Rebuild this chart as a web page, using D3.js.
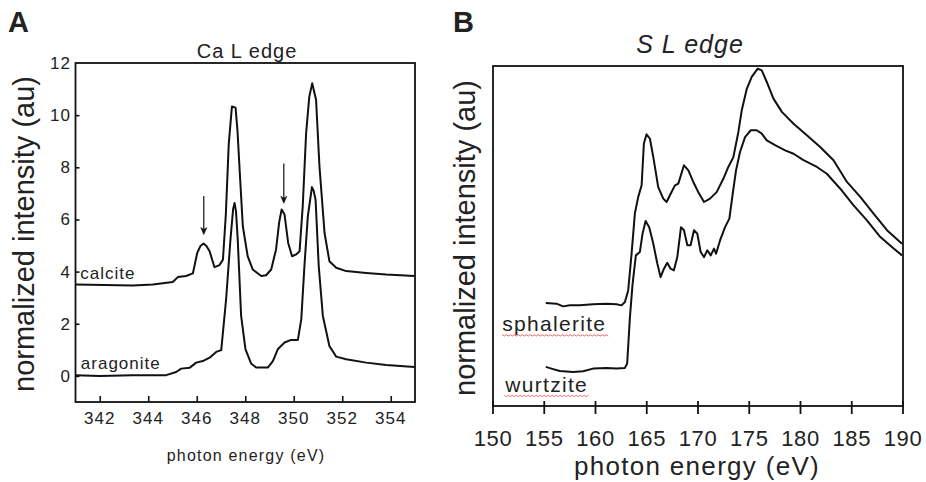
<!DOCTYPE html>
<html>
<head>
<meta charset="utf-8">
<script src="https://cdn.jsdelivr.net/npm/d3@7/dist/d3.min.js"></script>
<style>
  html, body { margin: 0; padding: 0; background: #fff; }
  svg { display: block; font-family: "Liberation Sans", Arial, Helvetica, sans-serif; }
</style>
</head>
<body>
<svg id="chart" width="926" height="482"></svg>
<script>
// ---------- Panel A data: Ca L edge ----------
const caTicksX = [342, 344, 346, 348, 350, 352, 354];
const caTicksY = [0, 2, 4, 6, 8, 10, 12];
const calciteE = [341, 343.36, 344.19, 345.01, 345.22, 345.56, 345.84, 346.02, 346.15, 346.28, 346.4, 346.53, 346.73, 346.94, 347.08, 347.2, 347.32, 347.45, 347.6, 347.68, 347.76, 347.9, 348.1, 348.31, 348.66, 348.86, 349.07, 349.27, 349.4, 349.5, 349.62, 349.77, 349.93, 350.1, 350.24, 350.37, 350.51, 350.64, 350.76, 350.92, 351.06, 351.27, 351.47, 351.75, 352.16, 352.99, 353.81, 354.98];
const calciteI = [3.51, 3.47, 3.51, 3.60, 3.79, 3.83, 3.93, 4.72, 4.98, 5.08, 4.98, 4.78, 4.17, 4.25, 4.46, 6.2, 8.9, 10.33, 10.29, 9.4, 8.04, 5.74, 4.59, 4.08, 3.83, 3.86, 4.08, 4.85, 5.9, 6.38, 6.19, 5.10, 4.59, 4.66, 4.78, 6.5, 9.31, 10.7, 11.22, 10.59, 8.04, 5.48, 4.40, 4.15, 4.02, 3.95, 3.89, 3.83];
const aragoniteE = [341, 341.99, 343.36, 344.74, 345.15, 345.36, 345.70, 345.98, 346.25, 346.53, 346.80, 347.01, 347.21, 347.39, 347.5, 347.56, 347.62, 347.69, 347.83, 348.01, 348.24, 348.45, 348.93, 349.14, 349.34, 349.62, 349.89, 350.17, 350.31, 350.44, 350.58, 350.75, 350.82, 350.9, 351.03, 351.2, 351.47, 351.75, 352.16, 352.99, 353.81, 354.98];
const aragoniteI = [0.03, 0.0, 0.03, 0.03, 0.15, 0.28, 0.31, 0.51, 0.57, 0.70, 0.92, 0.99, 2.93, 5.23, 6.4, 6.63, 6.3, 5.23, 2.30, 1.02, 0.48, 0.32, 0.32, 0.57, 1.02, 1.28, 1.38, 1.38, 2.17, 4.21, 6.12, 7.24, 7.1, 6.76, 4.21, 2.30, 1.15, 0.74, 0.64, 0.51, 0.42, 0.34];
const arrowE = [346.29, 349.59];
const arrowTop = [6.9, 8.15];
const arrowTip = [5.42, 6.62];
const caLabels = ["calcite", "aragonite"];
const caLabelE = [341.2, 341.22];
const caLabelI = [3.7, 0.25];

// ---------- Panel B data: S L edge ----------
const sTicksX = [150, 155, 160, 165, 170, 175, 180, 185, 190];
const sphaleriteE = [155.15, 156.19, 156.84, 157.49, 158.47, 159.77, 161.07, 162.05, 162.54, 162.87, 163.19, 163.52, 163.84, 164.17, 164.50, 164.72, 164.98, 165.31, 165.64, 166.12, 166.61, 166.94, 167.26, 167.75, 168.08, 168.63, 169.06, 169.54, 170.03, 170.59, 171.17, 171.82, 172.48, 172.96, 173.45, 173.94, 174.27, 174.76, 175.24, 175.83, 176.22, 176.71, 177.36, 178.18, 179.32, 180.62, 181.92, 183.22, 184.53, 185.83, 187.13, 188.44, 189.9];
const sphaleriteI = [3.03, 3.01, 2.93, 2.96, 2.96, 2.99, 3.01, 2.99, 2.96, 3.06, 3.40, 4.48, 5.66, 6.15, 6.49, 7.72, 7.99, 7.86, 7.32, 6.44, 6.10, 6.0, 6.20, 6.49, 6.54, 7.08, 6.93, 6.59, 6.29, 6.0, 6.10, 6.29, 6.69, 7.03, 7.32, 8.06, 8.70, 9.33, 9.68, 9.92, 9.87, 9.53, 9.04, 8.65, 8.30, 7.96, 7.62, 7.23, 6.59, 6.15, 5.66, 5.17, 4.77];
const wurtziteE = [155.15, 155.70, 156.51, 157.82, 158.79, 159.77, 161.07, 162.05, 162.87, 163.09, 163.36, 163.62, 163.94, 164.33, 164.59, 164.89, 165.24, 165.64, 166.03, 166.35, 166.68, 167.0, 167.33, 167.65, 167.98, 168.34, 168.63, 168.96, 169.28, 169.61, 169.93, 170.26, 170.59, 170.91, 171.24, 171.56, 171.76, 172.15, 172.64, 173.06, 173.39, 173.71, 174.10, 174.59, 175.15, 175.73, 176.22, 176.71, 177.52, 178.50, 179.32, 180.29, 181.60, 182.57, 183.88, 185.18, 186.48, 187.79, 189.09, 189.9];
const wurtziteI = [1.15, 1.10, 1.03, 1.0, 1.02, 1.10, 1.12, 1.10, 1.12, 1.25, 2.62, 3.60, 4.43, 4.53, 5.07, 5.44, 5.26, 4.77, 4.19, 3.79, 4.04, 4.21, 4.04, 3.99, 4.38, 5.26, 5.17, 4.73, 4.73, 5.17, 5.07, 4.53, 4.38, 4.58, 4.43, 4.63, 4.48, 4.87, 5.26, 5.51, 6.25, 6.93, 7.47, 7.91, 8.11, 8.11, 8.01, 7.81, 7.67, 7.52, 7.42, 7.23, 7.03, 6.83, 6.39, 5.90, 5.46, 4.97, 4.63, 4.43];
const sLabels = ["sphalerite", "wurtzite"];
const sLabelE = [150.9, 151.2];
const sLabelI = [2.2, 0.42];

const svg = d3.select("#chart");

// ================= Panel A =================
const xA = d3.scaleLinear().domain([341, 355]).range([75.5, 415]);
const yA = d3.scaleLinear().domain([-1, 12]).range([402, 63]);

const gA = svg.append("g");
gA.append("g").attr("transform", `translate(0,${yA(-1)})`)
  .call(d3.axisTop(xA).tickValues(caTicksX).tickSize(6).tickFormat(""))
  .call(g => g.select(".domain").remove())
  .call(g => g.selectAll("line").attr("stroke", "#111").attr("stroke-width", 1.6));
gA.append("g").attr("transform", `translate(${xA(341)},0)`)
  .call(d3.axisRight(yA).tickValues(caTicksY.filter(d => d < 12)).tickSize(4).tickFormat(""))
  .call(g => g.select(".domain").remove())
  .call(g => g.selectAll("line").attr("stroke", "#111").attr("stroke-width", 1.6));
gA.append("rect").attr("x", xA(341)).attr("y", yA(12))
  .attr("width", xA(355) - xA(341)).attr("height", yA(-1) - yA(12))
  .attr("fill", "none").attr("stroke", "#111").attr("stroke-width", 1.8);
gA.selectAll(".xtl").data(caTicksX).join("text")
  .attr("x", d => xA(d)).attr("y", 424).attr("text-anchor", "middle")
  .attr("font-size", 17).attr("letter-spacing", 1).attr("fill", "#222").text(d => d);
gA.selectAll(".ytl").data(caTicksY).join("text")
  .attr("x", 71).attr("y", d => yA(d) + 6).attr("text-anchor", "end")
  .attr("font-size", 17).attr("letter-spacing", 1).attr("fill", "#222").text(d => d);
gA.append("text").attr("x", 247).attr("y", 58).attr("text-anchor", "middle")
  .attr("font-size", 20).attr("letter-spacing", 1).attr("fill", "#222").text("Ca L edge");
gA.append("text").attr("x", 246).attr("y", 461).attr("text-anchor", "middle")
  .attr("font-size", 16).attr("letter-spacing", 1.2).attr("fill", "#222").text("photon energy (eV)");
gA.append("text").attr("transform", "translate(34,234) rotate(-90)").attr("text-anchor", "middle")
  .attr("font-size", 29).attr("fill", "#222").text("normalized intensity (au)");
svg.append("text").attr("x", 8).attr("y", 32).attr("font-size", 29).attr("font-weight", "bold")
  .attr("fill", "#222").text("A");

const lineA = d3.line().x(d => xA(d[0])).y(d => yA(d[1]));
[[calciteE, calciteI], [aragoniteE, aragoniteI]].forEach(([e, v]) => {
  gA.append("path").datum(e.map((d, i) => [d, v[i]])).attr("d", lineA)
    .attr("fill", "none").attr("stroke", "#111").attr("stroke-width", 2).attr("stroke-linejoin", "round");
});
arrowE.forEach((e, i) => {
  const x = xA(e), y1 = yA(arrowTop[i]), y2 = yA(arrowTip[i]);
  gA.append("line").attr("x1", x).attr("x2", x).attr("y1", y1).attr("y2", y2 - 2)
    .attr("stroke", "#111").attr("stroke-width", 1.2);
  gA.append("path").attr("d", `M${x - 3},${y2 - 7} L${x},${y2} L${x + 3},${y2 - 7} L${x},${y2 - 5} Z`)
    .attr("fill", "#111").attr("stroke", "#111").attr("stroke-width", 0.6);
});
gA.selectAll(".clab").data(caLabels).join("text")
  .attr("x", (d, i) => xA(caLabelE[i])).attr("y", (d, i) => yA(caLabelI[i]))
  .attr("font-size", 17).attr("letter-spacing", 1).attr("fill", "#222").text(d => d);

// ================= Panel B =================
const xB = d3.scaleLinear().domain([150, 190]).range([493, 903]);
const yB = d3.scaleLinear().domain([0, 10]).range([406, 66]);
const gB = svg.append("g");
gB.append("rect").attr("x", xB(150)).attr("y", yB(10))
  .attr("width", xB(190) - xB(150)).attr("height", yB(0) - yB(10))
  .attr("fill", "none").attr("stroke", "#111").attr("stroke-width", 1.8);
gB.selectAll(".xtk").data(sTicksX).join("line")
  .attr("x1", d => xB(d)).attr("x2", d => xB(d)).attr("y1", yB(0) - 5).attr("y2", yB(0) + 8)
  .attr("stroke", "#111").attr("stroke-width", 1.8);
gB.selectAll(".xtl").data(sTicksX).join("text")
  .attr("x", d => xB(d)).attr("y", 446).attr("text-anchor", "middle")
  .attr("font-size", 22).attr("letter-spacing", 0.6).attr("fill", "#222").text(d => d);
gB.append("text").attr("x", 697).attr("y", 475).attr("text-anchor", "middle")
  .attr("font-size", 26).attr("letter-spacing", 1.3).attr("fill", "#222").text("photon energy (eV)");
gB.append("text").attr("x", 690).attr("y", 53).attr("text-anchor", "middle")
  .attr("font-size", 25).attr("font-style", "italic").attr("letter-spacing", 1).attr("fill", "#222").text("S L edge");
gB.append("text").attr("transform", "translate(475,238) rotate(-90)").attr("text-anchor", "middle")
  .attr("font-size", 29).attr("fill", "#222").text("normalized intensity (au)");
svg.append("text").attr("x", 453).attr("y", 32).attr("font-size", 29).attr("font-weight", "bold")
  .attr("fill", "#222").text("B");

const lineB = d3.line().x(d => xB(d[0])).y(d => yB(d[1]));
[[sphaleriteE, sphaleriteI], [wurtziteE, wurtziteI]].forEach(([e, v]) => {
  gB.append("path").datum(e.map((d, i) => [d, v[i]])).attr("d", lineB)
    .attr("fill", "none").attr("stroke", "#111").attr("stroke-width", 2).attr("stroke-linejoin", "round");
});
const sl = gB.selectAll(".slab").data(sLabels).join("text")
  .attr("x", (d, i) => xB(sLabelE[i])).attr("y", (d, i) => yB(sLabelI[i]))
  .attr("font-size", 21).attr("letter-spacing", 1.3).attr("fill", "#222").text(d => d);
sl.each(function () {
  const bb = this.getBBox();
  const y0 = +this.getAttribute("y") + 3.5;
  let d = `M${bb.x},${y0}`;
  for (let x = bb.x, k = 0; x < bb.x + bb.width; x += 2, k++) {
    d += ` L${x + 2},${y0 + (k % 2 ? 0 : 1.4)}`;
  }
  gB.append("path").attr("d", d).attr("fill", "none").attr("stroke", "#e04040").attr("stroke-width", 0.8);
});
</script>
</body>
</html>
